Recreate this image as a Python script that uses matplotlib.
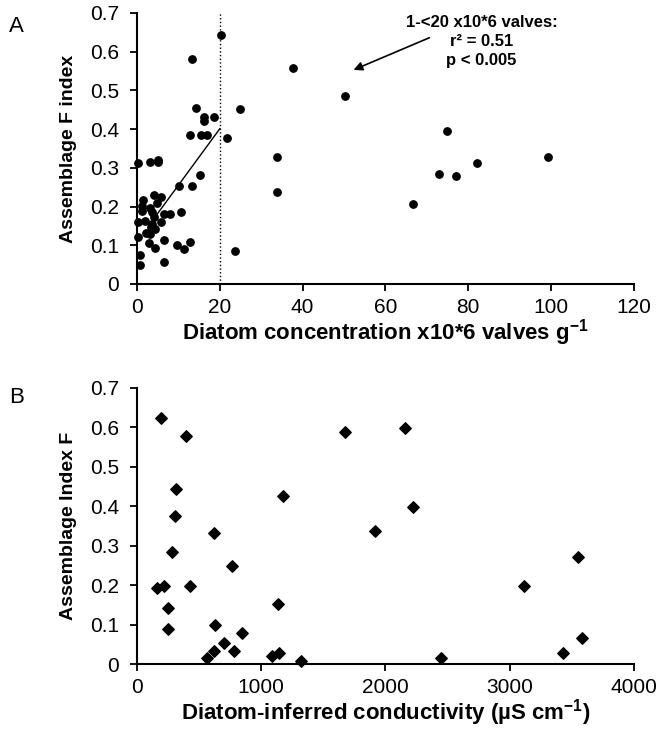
import matplotlib
matplotlib.use("Agg")
import matplotlib.pyplot as plt

plt.rcParams['font.family'] = ['Liberation Sans', 'DejaVu Sans']
plt.rcParams['mathtext.fontset'] = 'custom'
plt.rcParams['mathtext.rm'] = 'Liberation Sans'
plt.rcParams['mathtext.bf'] = 'Liberation Sans:bold'

# Panel A: diatom concentration (x10^6 valves/g) vs assemblage F index
conc_x = [20.2, 13.2, 14.2, 16.3, 16.1, 18.7, 24.8, 12.7, 15.5, 16.9,
          21.8, 0.3, 3.1, 5.0, 5.0, 15.3, 10.1, 13.2, 4.1, 5.7,
          1.5, 4.9, 1.1, 3.1, 1.3, 3.7, 6.6, 8.0, 10.7, 4.1,
          1.9, 0.2, 5.9, 3.7, 3.3, 4.4, 2.1, 3.1, 0.3, 2.8,
          6.5, 4.4, 9.6, 11.4, 12.8, 0.7, 0.7, 6.5, 23.6,
          37.7, 50.2, 33.9, 33.7, 74.9, 73.0, 77.0, 82.1, 66.6, 99.2]
conc_f = [0.642, 0.581, 0.455, 0.431, 0.421, 0.431, 0.451, 0.386, 0.386, 0.386,
          0.377, 0.312, 0.315, 0.320, 0.314, 0.282, 0.254, 0.252, 0.230, 0.225,
          0.217, 0.208, 0.202, 0.196, 0.189, 0.187, 0.182, 0.180, 0.186, 0.173,
          0.163, 0.159, 0.159, 0.156, 0.146, 0.143, 0.131, 0.128, 0.121, 0.105,
          0.114, 0.094, 0.101, 0.091, 0.109, 0.074, 0.048, 0.057, 0.084,
          0.557, 0.485, 0.329, 0.238, 0.394, 0.285, 0.278, 0.312, 0.207, 0.329]

# fitted line for 1-<20 x10*6 valves
trend_x = [4.3, 20.0]
trend_y = [0.172, 0.401]
cutoff_x = 20

# annotation arrow (tail -> head) and text anchor
arrow_tail = (70.6, 0.636)
arrow_head = (52.3, 0.553)
note_pos = (83.2, 0.695)

# Panel B: diatom-inferred conductivity vs assemblage index F
cond_x = [190, 397, 316, 306, 279, 161, 214, 426, 249, 249,
          619, 767, 627, 842, 700, 619, 560, 783, 1174, 1134,
          1083, 1145, 1324, 1678, 1914, 2154, 2221, 2444, 3117, 3547,
          3431, 3580]
cond_f = [0.623, 0.578, 0.443, 0.375, 0.285, 0.192, 0.198, 0.198, 0.142, 0.090,
          0.331, 0.249, 0.100, 0.079, 0.054, 0.032, 0.015, 0.032, 0.426, 0.152,
          0.021, 0.029, 0.008, 0.588, 0.337, 0.598, 0.399, 0.015, 0.198, 0.271,
          0.029, 0.065]

fig = plt.figure(figsize=(6.59, 7.33), dpi=100)
ax1 = fig.add_axes([0.2079, 0.6126, 0.754, 0.3697])
ax2 = fig.add_axes([0.2079, 0.0941, 0.754, 0.3766])

for ax in (ax1, ax2):
    for side in ('top', 'right'):
        ax.spines[side].set_visible(False)
    for side in ('left', 'bottom'):
        ax.spines[side].set_linewidth(1.5)
    ax.tick_params(direction='out', length=5, width=1.3, labelsize=15, pad=5)
    ax.tick_params(axis='y', pad=8)
    ax.set_ylim(0, 0.7)
    ax.set_yticks([0, 0.1, 0.2, 0.3, 0.4, 0.5, 0.6, 0.7])
    ax.set_yticklabels(['0', '0.1', '0.2', '0.3', '0.4', '0.5', '0.6', '0.7'])

# Panel A
ax1.scatter(conc_x, conc_f, s=28, color='black', zorder=3, clip_on=False)
ax1.plot(trend_x, trend_y, color='black', linewidth=1)
ax1.plot([cutoff_x, cutoff_x], [0, 0.7], color='black', linestyle=':', linewidth=1)
ax1.set_xlim(0, 120)
ax1.set_xticks(range(0, 121, 20))
ax1.set_xlabel(r'Diatom concentration x10*6 valves g$^{\mathbf{-1}}$',
               fontsize=16, fontweight='bold', labelpad=0)
ax1.set_ylabel('Assemblage F index', fontsize=14, fontweight='bold', labelpad=9)
ax1.text(note_pos[0], note_pos[1], '1-<20 x10*6 valves:\nr² = 0.51\np < 0.005',
         ha='center', va='top', fontsize=12, fontweight='bold', linespacing=1.35)
ax1.annotate('', xy=arrow_head, xytext=arrow_tail,
             arrowprops=dict(arrowstyle='-|>', color='black', lw=1.2,
                             shrinkA=0, shrinkB=0, mutation_scale=13))

# Panel B
ax2.scatter(cond_x, cond_f, s=34, marker='D', color='black', zorder=3, clip_on=False)
ax2.set_xlim(0, 4000)
ax2.set_xticks(range(0, 4001, 1000))
ax2.set_xlabel(r'Diatom-inferred conductivity (µS cm$^{\mathbf{-1}}$)',
               fontsize=16, fontweight='bold', labelpad=0)
ax2.set_ylabel('Assemblage Index F', fontsize=14, fontweight='bold', labelpad=9)

fig.text(0.014, 0.956, 'A', fontsize=16)
fig.text(0.014, 0.45, 'B', fontsize=16)

fig.savefig('out.png', dpi=100)
